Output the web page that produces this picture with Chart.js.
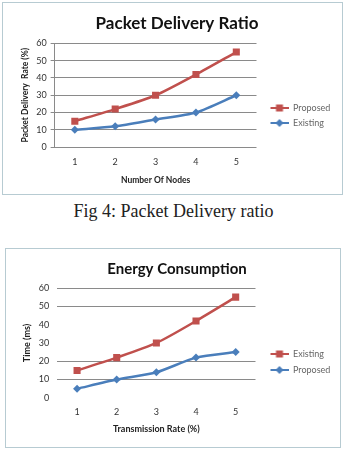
<!DOCTYPE html>
<html>
<head>
<meta charset="utf-8">
<script src="https://cdn.jsdelivr.net/npm/chart.js@4.4.1/dist/chart.umd.min.js"></script>
<style>
  body { margin: 0; background: #fff; width: 347px; height: 453px; position: relative; overflow: hidden; }
  .frame { position: absolute; border: 1px solid #b7cbd2; box-sizing: border-box; }
  #f1 { left: 2px; top: 2px; width: 341px; height: 193px; }
  #f2 { left: 5px; top: 248px; width: 336px; height: 200px; }
  canvas { position: absolute; left: 0; top: 0; }
  #caption { position: absolute; left: 0; width: 347px; top: 201px; text-align: center;
             font-family: "Liberation Serif", serif; font-size: 18px; color: #222; }
</style>
</head>
<body>
<div class="frame" id="f1"><canvas id="c1" width="339" height="191"></canvas></div>
<div id="caption">Fig 4: Packet Delivery ratio</div>
<div class="frame" id="f2"><canvas id="c2" width="334" height="198"></canvas></div>
<script>
// dane
const nodes = ["1", "2", "3", "4", "5"];
const pdrProposed = [15, 22, 30, 42, 55];
const pdrExisting = [10, 12, 16, 20, 30];

const rates = ["1", "2", "3", "4", "5"];
const energyExisting = [15, 22, 30, 42, 55];
const energyProposed = [5, 10, 14, 22, 25];

const RED = "#C0504D";
const BLUE = "#4A7EBB";
const GRID = "#8a8a8a";
const FONT = "Lato";

// ikonka legendy: linia + znacznik (jak w Excelu)
function legendIcon(color, style) {
    const c = document.createElement("canvas");
    c.width = 26;
    c.height = 10;
    const g = c.getContext("2d");
    g.strokeStyle = color;
    g.lineWidth = 2;
    g.beginPath();
    g.moveTo(8, 5);
    g.lineTo(26, 5);
    g.stroke();
    g.fillStyle = color;
    if (style === "rect") {
        g.fillRect(13.5, 1.5, 7, 7);
    } else {
        g.beginPath();
        g.moveTo(17, 1); g.lineTo(21, 5); g.lineTo(17, 9); g.lineTo(13, 5);
        g.closePath();
        g.fill();
    }
    return c;
}

function series(label, data, color, style) {
    return {
        label: label,
        data: data,
        borderColor: color,
        backgroundColor: color,
        borderWidth: 2.5,
        tension: 0.25,
        pointStyle: style,
        pointRadius: style === "rect" ? 5 : 4,
        pointBorderWidth: 0,
        icon: legendIcon(color, style),
    };
}

function makeChart(id, labels, datasets, t) {
    const ctx = document.getElementById(id).getContext("2d");
    return new Chart(ctx, {
        type: "line",
        data: { labels: labels, datasets: datasets },
        options: {
            responsive: false,
            animation: false,
            devicePixelRatio: 1,
            layout: { padding: { left: t.padLeft, right: t.padRight, top: 0, bottom: t.padBottom } },
            plugins: {
                title: {
                    display: true,
                    text: t.title,
                    color: "#111",
                    font: { family: FONT, size: t.titleSize, weight: "bold" },
                    padding: { top: t.titleTop, bottom: t.titleBottom },
                },
                legend: {
                    position: "right",
                    title: { display: true, text: "", padding: { top: t.legendShift, bottom: 0 } },
                    labels: {
                        usePointStyle: true,
                        pointStyleWidth: 26,
                        padding: t.legendGap,
                        color: "#333",
                        font: { family: FONT, size: 9 },
                        generateLabels: (chart) =>
                            chart.data.datasets.map((ds, i) => ({
                                text: ds.label,
                                pointStyle: ds.icon,
                                fillStyle: ds.borderColor,
                                strokeStyle: ds.borderColor,
                                lineWidth: 0,
                                datasetIndex: i,
                            })),
                    },
                },
                tooltip: { enabled: false },
            },
            scales: {
                x: {
                    offset: true,
                    grid: { display: false, drawTicks: true, tickLength: t.xTickLen },
                    border: { display: false },
                    ticks: { color: "#333", padding: 1, font: { family: FONT, size: 9 } },
                    title: {
                        display: true,
                        text: t.xTitle,
                        color: "#222",
                        font: { family: FONT, size: t.xTitleSize, weight: "bold" },
                        padding: { top: t.xTitleTop, bottom: 2 },
                    },
                },
                y: {
                    min: 0,
                    max: 60,
                    ticks: { stepSize: 10, color: "#333", padding: 4, font: { family: FONT, size: 9 } },
                    grid: {
                        color: (c) => (t.hiddenGrid.includes(c.tick && c.tick.value) ? "rgba(0,0,0,0)" : GRID),
                        tickColor: t.yBorder ? GRID : "rgba(0,0,0,0)",
                        tickLength: 4,
                        lineWidth: 1,
                    },
                    border: { display: t.yBorder, color: GRID },
                    title: {
                        display: true,
                        text: t.yTitle,
                        color: "#222",
                        font: { family: FONT, size: t.yTitleSize, weight: "bold" },
                        padding: { top: 2, bottom: 2 },
                    },
                },
            },
        },
    });
}

makeChart("c1", nodes, [
    series("Proposed", pdrProposed, RED, "rect"),
    series("Existing", pdrExisting, BLUE, "rectRot"),
], {
    title: "Packet Delivery Ratio",
    titleSize: 17,
    xTitle: "Number Of Nodes",
    xTitleSize: 8.5,
    yTitle: "Packet Delivery  Rate (%)",
    yTitleSize: 8.5,
    padLeft: 15, padRight: 6, padBottom: 6.5,
    titleTop: 10, titleBottom: 10,
    xTickLen: 9, xTitleTop: 6.4,
    legendShift: 26, legendGap: 6,
    hiddenGrid: [],
    yBorder: true,
});

makeChart("c2", rates, [
    series("Existing", energyExisting, RED, "rect"),
    series("Proposed", energyProposed, BLUE, "rectRot"),
], {
    title: "Energy Consumption",
    titleSize: 15,
    xTitle: "Transmission Rate (%)",
    xTitleSize: 9,
    yTitle: "Time (ms)",
    yTitleSize: 9,
    padLeft: 14, padRight: 6, padBottom: 10.5,
    titleTop: 11, titleBottom: 10,
    xTickLen: 8, xTitleTop: 5,
    legendShift: 24, legendGap: 7,
    hiddenGrid: [0, 30, 40],
    yBorder: false,
});
</script>
</body>
</html>
